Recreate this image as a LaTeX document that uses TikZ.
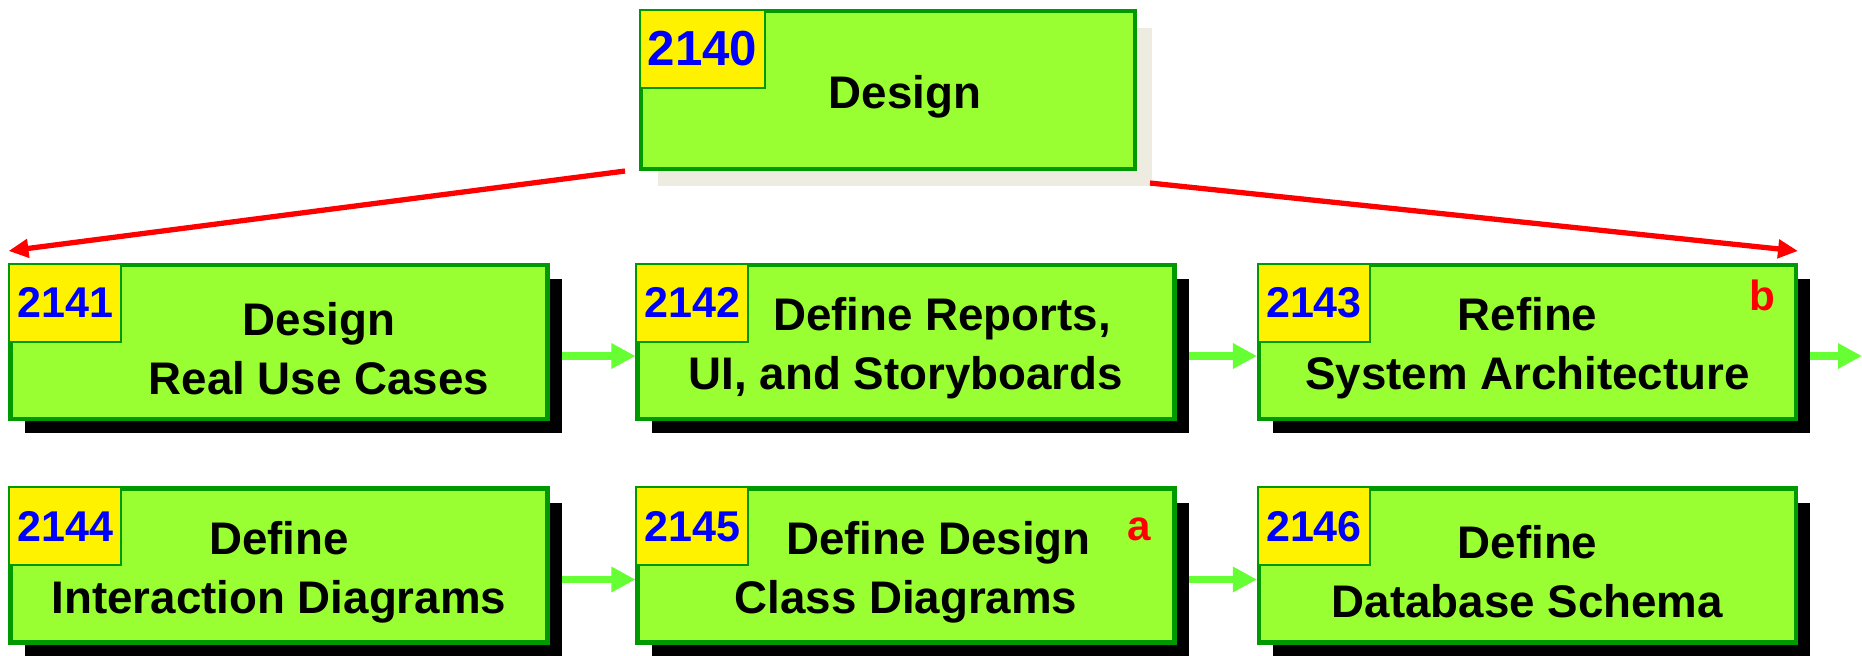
\documentclass[tikz,border=0pt]{standalone}
\usepackage{fontspec}
\setmainfont{Liberation Sans}
\usetikzlibrary{arrows.meta,shadows}
\definecolor{boxgreen}{HTML}{99FF33}
\definecolor{edgegreen}{HTML}{009900}
\definecolor{flowgreen}{HTML}{66FF33}
\definecolor{shadegray}{HTML}{EEEBE0}
\newcommand{\bigtext}{\fontsize{26}{33.5}\selectfont\bfseries}
\newcommand{\numtext}{\fontsize{24.5}{28}\selectfont\bfseries}
\newcommand{\topstrut}{\rule{0pt}{0.92cm}}
\begin{document}
\begin{tikzpicture}[
  box/.style={draw=edgegreen, line width=2.3pt, fill=boxgreen, inner sep=0pt,
    minimum width=10.74cm, minimum height=3.08cm, align=center, font=\bigtext},
  task/.style={box, drop shadow={shadow xshift=0.28cm, shadow yshift=-0.28cm, fill=black, opacity=1}},
  head/.style={box, minimum width=9.88cm, minimum height=3.16cm,
    drop shadow={shadow xshift=0.33cm, shadow yshift=-0.33cm, fill=shadegray, opacity=1}},
  num/.style={draw=edgegreen, line width=1.1pt, fill=yellow, text=blue, inner sep=0pt,
    anchor=north west, minimum width=2.24cm, minimum height=1.56cm, font=\numtext},
  flow/.style={draw=flowgreen, line width=4.5pt, -{Triangle[length=0.48cm,width=0.48cm]}},
  split/.style={draw=red, line width=3pt, -{Triangle[length=0.4cm,width=0.36cm]}},
  note/.style={text=red, font=\fontsize{24}{28}\selectfont\bfseries}]
  \useasboundingbox (0,0) rectangle (37.24,-13.1);
  % top task
  \node[head] (Des) at (17.76, -1.8) {\topstrut\hspace*{0.68cm}Design};
  \node[num, minimum width=2.5cm, font=\fontsize{28}{30}\selectfont\bfseries]
    (nDes) at (Des.north west) {2140};
  % first row
  \node[task] (RUC) at (5.58, -6.84) {\topstrut\hspace*{1.6cm}Design\\\hspace*{1.6cm}Real Use Cases};
  \node[task] (Rep) at (18.12, -6.84) {\topstrut\hspace*{1.44cm}Define Reports,\\UI, and Storyboards};
  \node[task] (Arch) at (30.55, -6.84) {\topstrut Refine\\System Architecture};
  % second row
  \node[task] (Int) at (5.58, -11.31) {\topstrut Define\\Interaction Diagrams};
  \node[task] (Cls) at (18.12, -11.31) {\topstrut\hspace*{1.3cm}Define Design\\Class Diagrams};
  \node[task] (DB) at (30.55, -11.31) {\topstrut Define\\Database Schema};
  % numbers
  \node[num] (nRUC) at (RUC.north west) {2141};
  \node[num] (nRep) at (Rep.north west) {2142};
  \node[num] (nArch) at (Arch.north west) {2143};
  \node[num] (nInt) at (Int.north west) {2144};
  \node[num] (nCls) at (Cls.north west) {2145};
  \node[num] (nDB) at (DB.north west) {2146};
  \node[note] (b) at ([xshift=-0.72cm, yshift=-0.64cm]Arch.north east) {b};
  \node[note] (a) at ([xshift=-0.74cm, yshift=-0.86cm]Cls.north east) {a};
  % connectors
  \coordinate (out) at (37.24, -7.12);
  \draw[split] ([xshift=-0.28cm]Des.south west) -- ([yshift=0.24cm]RUC.north west);
  \draw[split] ([xshift=0.26cm, yshift=-0.24cm]Des.south east) -- ([yshift=0.24cm]Arch.north east);
  \draw[flow] ([xshift=0.24cm, yshift=-0.28cm]RUC.east) -- ([yshift=-0.28cm]Rep.west);
  \draw[flow] ([xshift=0.24cm, yshift=-0.28cm]Rep.east) -- ([yshift=-0.28cm]Arch.west);
  \draw[flow] ([xshift=0.24cm, yshift=-0.28cm]Arch.east) -- (out);
  \draw[flow] ([xshift=0.24cm, yshift=-0.28cm]Int.east) -- ([yshift=-0.28cm]Cls.west);
  \draw[flow] ([xshift=0.24cm, yshift=-0.28cm]Cls.east) -- ([yshift=-0.28cm]DB.west);
\end{tikzpicture}
\end{document}
